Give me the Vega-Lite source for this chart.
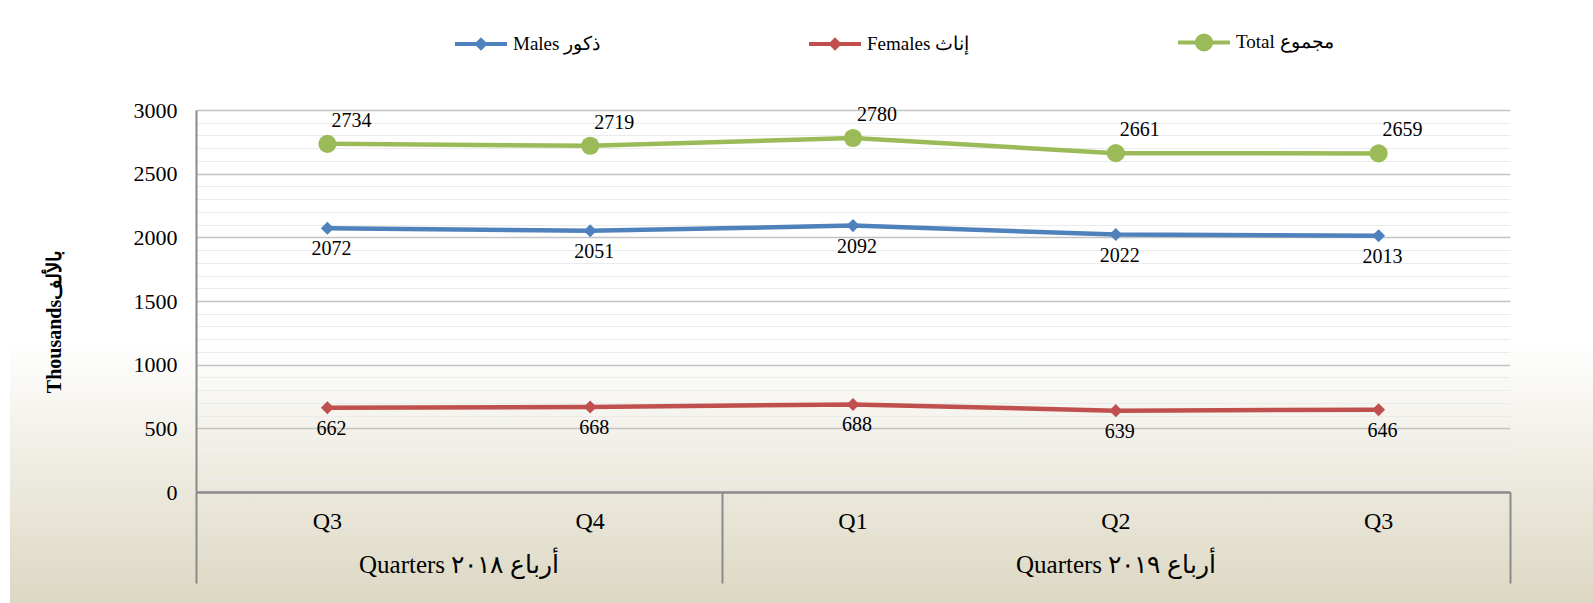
{
  "$schema": "https://vega.github.io/schema/vega-lite/v6.json",
  "width": 1314,
  "height": 382,
  "autosize": {"type": "none"},
  "padding": {"left": 196, "top": 110, "right": 83, "bottom": 111},
  "background": "#ffffff",
  "view": {
    "stroke": null,
    "fill": {"gradient": "linear", "x1": 0, "y1": 0, "x2": 0, "y2": 1,
      "stops": [{"offset": 0, "color": "#ffffff"}, {"offset": 0.6, "color": "#ffffff"}, {"offset": 1, "color": "#ebe8dc"}]}
  },
  "config": {"font": "Liberation Serif"},
  "datasets": {
    "main": [
      {"q": 1, "quarter": "Q3", "group": "Quarters أرباع ٢٠١٨", "series": "Males ذكور", "value": 2072},
      {"q": 2, "quarter": "Q4", "group": "Quarters أرباع ٢٠١٨", "series": "Males ذكور", "value": 2051},
      {"q": 3, "quarter": "Q1", "group": "Quarters أرباع ٢٠١٩", "series": "Males ذكور", "value": 2092},
      {"q": 4, "quarter": "Q2", "group": "Quarters أرباع ٢٠١٩", "series": "Males ذكور", "value": 2022},
      {"q": 5, "quarter": "Q3", "group": "Quarters أرباع ٢٠١٩", "series": "Males ذكور", "value": 2013},
      {"q": 1, "quarter": "Q3", "group": "Quarters أرباع ٢٠١٨", "series": "Females إناث", "value": 662},
      {"q": 2, "quarter": "Q4", "group": "Quarters أرباع ٢٠١٨", "series": "Females إناث", "value": 668},
      {"q": 3, "quarter": "Q1", "group": "Quarters أرباع ٢٠١٩", "series": "Females إناث", "value": 688},
      {"q": 4, "quarter": "Q2", "group": "Quarters أرباع ٢٠١٩", "series": "Females إناث", "value": 639},
      {"q": 5, "quarter": "Q3", "group": "Quarters أرباع ٢٠١٩", "series": "Females إناث", "value": 646},
      {"q": 1, "quarter": "Q3", "group": "Quarters أرباع ٢٠١٨", "series": "Total مجموع", "value": 2734},
      {"q": 2, "quarter": "Q4", "group": "Quarters أرباع ٢٠١٨", "series": "Total مجموع", "value": 2719},
      {"q": 3, "quarter": "Q1", "group": "Quarters أرباع ٢٠١٩", "series": "Total مجموع", "value": 2780},
      {"q": 4, "quarter": "Q2", "group": "Quarters أرباع ٢٠١٩", "series": "Total مجموع", "value": 2661},
      {"q": 5, "quarter": "Q3", "group": "Quarters أرباع ٢٠١٩", "series": "Total مجموع", "value": 2659}
    ]
  },
  "data": {"name": "main"},
  "layer": [
    {
      "data": {"values": [{}]},
      "mark": {"type": "rect", "fill": {"gradient": "linear", "x1": 0, "y1": 0, "x2": 0, "y2": 1,
        "stops": [{"offset": 0, "color": "#ebe8dc"}, {"offset": 1, "color": "#ddd8c3"}]}},
      "encoding": {
        "x": {"datum": -0.2078, "scale": {"domain": [0.5, 5.5], "nice": false, "zero": false}, "axis": null},
        "x2": {"datum": 6.5},
        "y": {"datum": 0, "scale": {"domain": [0, 3000], "nice": false, "zero": false}, "axis": null},
        "y2": {"datum": -871.7}
      }
    },
    {
      "data": {"values": [{}]},
      "mark": {"type": "rect", "fill": {"gradient": "linear", "x1": 0, "y1": 0, "x2": 0, "y2": 1,
        "stops": [{"offset": 0, "color": "#ffffff"}, {"offset": 1, "color": "#ebe8dc"}]}},
      "encoding": {
        "x": {"datum": -0.2078, "scale": {"domain": [0.5, 5.5], "nice": false, "zero": false}, "axis": null},
        "x2": {"datum": 0.5},
        "y": {"datum": 1193.7, "scale": {"domain": [0, 3000], "nice": false, "zero": false}, "axis": null},
        "y2": {"datum": 0}
      }
    },
    {
      "data": {"values": [{}]},
      "mark": {"type": "rect", "fill": {"gradient": "linear", "x1": 0, "y1": 0, "x2": 0, "y2": 1,
        "stops": [{"offset": 0, "color": "#ffffff"}, {"offset": 1, "color": "#ebe8dc"}]}},
      "encoding": {
        "x": {"datum": 5.5, "scale": {"domain": [0.5, 5.5], "nice": false, "zero": false}, "axis": null},
        "x2": {"datum": 6.5},
        "y": {"datum": 1193.7, "scale": {"domain": [0, 3000], "nice": false, "zero": false}, "axis": null},
        "y2": {"datum": 0}
      }
    },
    {
      "mark": {"type": "line", "strokeWidth": 4.5, "strokeJoin": "round"},
      "encoding": {
        "x": {"field": "q", "type": "quantitative", "scale": {"domain": [0.5, 5.5], "nice": false, "zero": false},
          "axis": {"orient": "bottom", "values": [0.5, 2.5, 5.5], "labels": false, "ticks": true, "tickSize": 91,
            "tickColor": "#8a8a8a", "tickWidth": 2, "domain": true, "domainColor": "#8a8a8a", "domainWidth": 2.5,
            "grid": false, "title": null, "zindex": 1}},
        "y": {"field": "value", "type": "quantitative", "scale": {"domain": [0, 3000], "nice": false, "zero": false},
          "axis": {"orient": "left", "grid": true, "domain": false, "labels": false, "ticks": false, "title": null,
            "values": [0,100,200,300,400,500,600,700,800,900,1000,1100,1200,1300,1400,1500,1600,1700,1800,1900,2000,2100,2200,2300,2400,2500,2600,2700,2800,2900,3000],
            "gridColor": {"condition": {"test": "datum.value % 500 === 0", "value": "#c4c4c4"}, "value": "#ebebeb"},
            "gridWidth": {"condition": {"test": "datum.value % 500 === 0", "value": 1.3}, "value": 1},
            "zindex": 0}},
        "color": {"field": "series", "type": "nominal",
          "scale": {"domain": ["Males ذكور", "Females إناث", "Total مجموع"], "range": ["#4f81bd", "#c0504d", "#9bbb59"]},
          "legend": {"title": null, "orient": "none", "legendX": 257, "legendY": -96, "direction": "horizontal",
            "columns": 3, "columnPadding": 200, "padding": 0, "symbolSize": 2704, "symbolStrokeWidth": 4,
            "labelFont": "Liberation Serif", "labelFontSize": 19, "labelFontWeight": "normal", "labelColor": "#000000", "labelOffset": 4, "labelLimit": 400,
            "encode": {
              "labels": {"update": {"fontWeight": {"value": "normal"}}},
              "symbols": {"update": {
              "shape": [{"test": "datum.value === 'Total مجموع'", "value": "M-1,0L1,0M-0.27,0A0.27,0.27,0,1,0,0.27,0A0.27,0.27,0,1,0,-0.27,0Z"}, {"value": "M-1,0L1,0M0,-0.15L0.15,0L0,0.15L-0.15,0Z"}],
              "fill": {"signal": "scale('color', datum.value)"},
              "stroke": {"signal": "scale('color', datum.value)"},
              "strokeWidth": {"value": 4},
              "size": {"value": 2704},
              "opacity": {"value": 1}
            }}}}
        }
      }
    },
    {
      "transform": [{"filter": {"field": "series", "oneOf": ["Males ذكور", "Females إناث"]}}],
      "mark": {"type": "point", "shape": "diamond", "size": 170, "filled": true, "opacity": 1, "strokeWidth": 0},
      "encoding": {
        "x": {"field": "q", "type": "quantitative", "scale": {"domain": [0.5, 5.5], "nice": false, "zero": false}, "axis": null},
        "y": {"field": "value", "type": "quantitative", "scale": {"domain": [0, 3000], "nice": false, "zero": false},
          "axis": {"orient": "left", "grid": false, "values": [0, 500, 1000, 1500, 2000, 2500, 3000], "format": "d", "ticks": false, "tickSize": 0,
            "domain": true, "domainColor": "#8a8a8a", "domainWidth": 2,
            "labelFont": "Liberation Serif", "labelFontSize": 22, "labelColor": "#000000", "labelPadding": 19,
            "title": "Thousandsبالألف", "titleFont": "Liberation Serif", "titleFontSize": 20, "titleFontWeight": "bold",
            "titleColor": "#000000", "titleX": -142, "titleY": 211, "titleAngle": -90, "titleAlign": "center", "titleBaseline": "middle",
            "zindex": 1}},
        "color": {"field": "series", "type": "nominal",
          "scale": {"domain": ["Males ذكور", "Females إناث", "Total مجموع"], "range": ["#4f81bd", "#c0504d", "#9bbb59"]}, "legend": null}
      }
    },
    {
      "transform": [{"filter": {"field": "series", "equal": "Total مجموع"}}],
      "mark": {"type": "point", "shape": "circle", "size": 330, "filled": true, "opacity": 1, "strokeWidth": 0},
      "encoding": {
        "x": {"field": "q", "type": "quantitative", "scale": {"domain": [0.5, 5.5], "nice": false, "zero": false}, "axis": null},
        "y": {"field": "value", "type": "quantitative", "scale": {"domain": [0, 3000], "nice": false, "zero": false}, "axis": null},
        "color": {"field": "series", "type": "nominal",
          "scale": {"domain": ["Males ذكور", "Females إناث", "Total مجموع"], "range": ["#4f81bd", "#c0504d", "#9bbb59"]}, "legend": null}
      }
    },
    {
      "transform": [{"filter": {"field": "series", "equal": "Total مجموع"}}],
      "mark": {"type": "text", "font": "Liberation Serif", "fontSize": 20, "color": "#000000", "baseline": "middle", "align": "center", "dx": 24, "dy": -23},
      "encoding": {
        "x": {"field": "q", "type": "quantitative", "scale": {"domain": [0.5, 5.5], "nice": false, "zero": false}, "axis": null},
        "y": {"field": "value", "type": "quantitative", "scale": {"domain": [0, 3000], "nice": false, "zero": false}, "axis": null},
        "text": {"field": "value", "type": "quantitative", "format": "d"}
      }
    },
    {
      "transform": [{"filter": {"field": "series", "oneOf": ["Males ذكور", "Females إناث"]}}],
      "mark": {"type": "text", "font": "Liberation Serif", "fontSize": 20, "color": "#000000", "baseline": "middle", "align": "center", "dx": 4, "dy": 21},
      "encoding": {
        "x": {"field": "q", "type": "quantitative", "scale": {"domain": [0.5, 5.5], "nice": false, "zero": false}, "axis": null},
        "y": {"field": "value", "type": "quantitative", "scale": {"domain": [0, 3000], "nice": false, "zero": false}, "axis": null},
        "text": {"field": "value", "type": "quantitative", "format": "d"}
      }
    },
    {
      "transform": [{"filter": {"field": "series", "equal": "Males ذكور"}}],
      "mark": {"type": "text", "font": "Liberation Serif", "fontSize": 24, "color": "#000000", "baseline": "middle", "align": "center", "dy": 30},
      "encoding": {
        "x": {"field": "q", "type": "quantitative", "scale": {"domain": [0.5, 5.5], "nice": false, "zero": false}, "axis": null},
        "y": {"datum": 0, "scale": {"domain": [0, 3000], "nice": false, "zero": false}, "axis": null},
        "text": {"field": "quarter", "type": "nominal"}
      }
    },
    {
      "transform": [{"aggregate": [{"op": "mean", "field": "q", "as": "qm"}], "groupby": ["group"]}],
      "mark": {"type": "text", "font": "Liberation Serif", "fontSize": 25, "color": "#000000", "baseline": "middle", "align": "center", "dy": 73},
      "encoding": {
        "x": {"field": "qm", "type": "quantitative", "scale": {"domain": [0.5, 5.5], "nice": false, "zero": false}, "axis": null},
        "y": {"datum": 0, "scale": {"domain": [0, 3000], "nice": false, "zero": false}, "axis": null},
        "text": {"field": "group", "type": "nominal"}
      }
    }
  ],
  "resolve": {"axis": {"x": "independent", "y": "independent"}, "legend": {"color": "independent"}}
}
